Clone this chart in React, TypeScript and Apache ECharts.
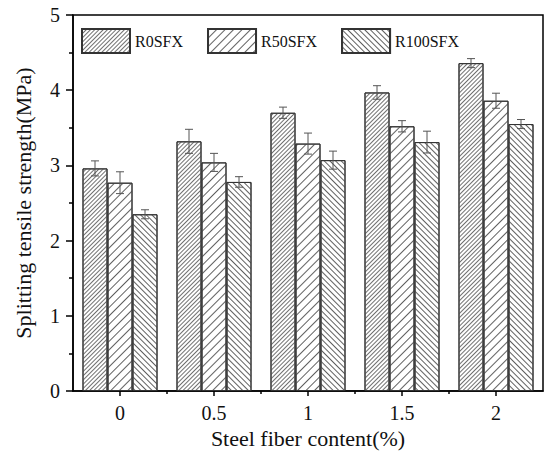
import React, { useEffect, useRef } from "react";
import * as echarts from "echarts";

const categories = [0, 0.5, 1, 1.5, 2];
const seriesNames = ["R0SFX", "R50SFX", "R100SFX"];
const r0Values = [2.96, 3.32, 3.70, 3.97, 4.36];
const r0Errors = [0.10, 0.16, 0.075, 0.09, 0.06];
const r50Values = [2.77, 3.04, 3.29, 3.52, 3.86];
const r50Errors = [0.145, 0.12, 0.14, 0.075, 0.10];
const r100Values = [2.35, 2.78, 3.07, 3.31, 3.55];
const r100Errors = [0.06, 0.07, 0.12, 0.145, 0.06];
const xTickValues = [0, 0.5, 1, 1.5, 2];
const xMinorTickValues = [0.25, 0.75, 1.25, 1.75];

const BAR_W = 25;
const FONT = "Liberation Serif";

export default function App() {
  const ref = useRef<HTMLDivElement>(null);
  useEffect(() => {
    document.body.style.margin = "0";
    const chart = echarts.init(ref.current!, null, { renderer: "svg" });
    const valuesList = [r0Values, r50Values, r100Values];
    const errList = [r0Errors, r50Errors, r100Errors];
    const decals = [
      { symbol: "rect", symbolSize: 1, dashArrayX: [1, 0], dashArrayY: [1, 2], rotation: -Math.PI / 4, color: "#707070" },
      { symbol: "rect", symbolSize: 1, dashArrayX: [1, 0], dashArrayY: [1, 5], rotation: -Math.PI / 4, color: "#606060" },
      { symbol: "rect", symbolSize: 1, dashArrayX: [1, 0], dashArrayY: [1, 3], rotation: Math.PI / 4, color: "#606060" },
    ];
    const barSeries = seriesNames.map((name, i) => ({
      name,
      type: "bar",
      barWidth: BAR_W,
      barGap: "0%",
      data: categories.map((c, j) => [c, valuesList[i][j]]),
      itemStyle: {
        color: "#ffffff",
        borderColor: "#333",
        borderWidth: 1,
        decal: decals[i],
      },
      z: 2,
    }));
    const errData: number[][] = [];
    seriesNames.forEach((_, i) => {
      categories.forEach((c, j) => {
        errData.push([c, valuesList[i][j] - errList[i][j], valuesList[i][j] + errList[i][j], i]);
      });
    });
    const errSeries = {
      type: "custom",
      z: 5,
      silent: true,
      data: errData,
      renderItem: (params: any, api: any) => {
        const x = api.value(0);
        const lo = api.coord([x, api.value(1)]);
        const hi = api.coord([x, api.value(2)]);
        const px = lo[0] + (api.value(3) - 1) * BAR_W;
        const cap = 4;
        const style = { stroke: "#555", lineWidth: 1 };
        return {
          type: "group",
          children: [
            { type: "line", shape: { x1: px, y1: lo[1], x2: px, y2: hi[1] }, style },
            { type: "line", shape: { x1: px - cap, y1: lo[1], x2: px + cap, y2: lo[1] }, style },
            { type: "line", shape: { x1: px - cap, y1: hi[1], x2: px + cap, y2: hi[1] }, style },
          ],
        };
      },
    };
    chart.setOption({
      animation: false,
      grid: {
        left: 73,
        right: 7,
        top: 15,
        bottom: 65,
        show: true,
        borderColor: "#000",
        borderWidth: 1.5,
        backgroundColor: "transparent",
      },
      legend: {
        data: seriesNames,
        left: 81,
        top: 28,
        padding: 0,
        itemWidth: 48,
        itemHeight: 24,
        itemGap: 24,
        icon: "rect",
        textStyle: { fontFamily: FONT, fontSize: 16, color: "#111" },
      },
      xAxis: [
        {
          type: "value",
          min: -0.25,
          max: 2.25,
          name: "Steel fiber content(%)",
          nameLocation: "middle",
          nameGap: 36,
          nameTextStyle: { fontFamily: FONT, fontSize: 22, color: "#111" },
          axisLine: { show: true, onZero: false, lineStyle: { color: "#000", width: 1.5 } },
          axisTick: { show: true, length: 5, customValues: xTickValues, lineStyle: { color: "#000", width: 1.5 } },
          axisLabel: {
            customValues: xTickValues,
            margin: 12,
            fontFamily: FONT,
            fontSize: 20,
            color: "#111",
            formatter: (v: number) => String(v),
          },
          splitLine: { show: false },
        },
        {
          type: "value",
          min: -0.25,
          max: 2.25,
          position: "bottom",
          axisLine: { show: false, onZero: false },
          axisTick: { show: true, length: 3, customValues: xMinorTickValues, lineStyle: { color: "#000", width: 1.5 } },
          axisLabel: { show: false },
          splitLine: { show: false },
        },
      ],
      yAxis: {
        type: "value",
        min: 0,
        max: 5,
        interval: 1,
        name: "Splitting tensile strength(MPa)",
        nameLocation: "middle",
        nameGap: 39,
        nameTextStyle: { fontFamily: FONT, fontSize: 22, color: "#111" },
        axisLine: { show: true, onZero: false, lineStyle: { color: "#000", width: 1.5 } },
        axisTick: { show: true, length: 7, lineStyle: { color: "#000", width: 1.5 } },
        minorTick: { show: true, splitNumber: 2, length: 4, lineStyle: { color: "#000", width: 1.5 } },
        axisLabel: { margin: 13, fontFamily: FONT, fontSize: 20, color: "#111" },
        splitLine: { show: false },
      },
      series: [...barSeries, errSeries],
    });
    return () => chart.dispose();
  }, []);
  return <div ref={ref} style={{ width: 550, height: 456 }} />;
}
